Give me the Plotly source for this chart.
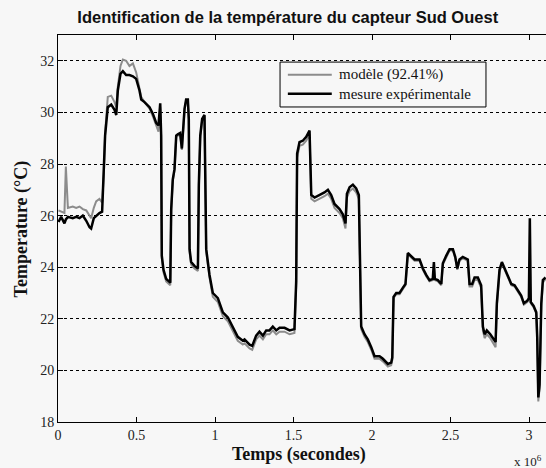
import plotly.graph_objects as go

# temps en 10^6 secondes
temps = [0.003, 0.020, 0.041, 0.050, 0.063, 0.094, 0.116, 0.137, 0.158, 0.180,
         0.201, 0.211, 0.228, 0.243, 0.264, 0.281, 0.292, 0.300, 0.317, 0.339,
         0.360, 0.371, 0.381, 0.398, 0.413, 0.434, 0.455, 0.477, 0.498, 0.519,
         0.530, 0.551, 0.583, 0.604, 0.625, 0.640, 0.651, 0.657, 0.661, 0.672,
         0.689, 0.715, 0.721, 0.731, 0.742, 0.753, 0.763, 0.778, 0.789, 0.795,
         0.806, 0.816, 0.827, 0.833, 0.838, 0.848, 0.869, 0.891, 0.897, 0.906,
         0.918, 0.933, 0.939, 0.944, 0.965, 0.986, 1.018, 1.050, 1.082, 1.113,
         1.145, 1.177, 1.188, 1.220, 1.237, 1.262, 1.283, 1.305, 1.326, 1.347,
         1.368, 1.390, 1.411, 1.443, 1.475, 1.506, 1.517, 1.523, 1.538, 1.559,
         1.581, 1.602, 1.608, 1.613, 1.634, 1.666, 1.697, 1.719, 1.740, 1.761,
         1.793, 1.814, 1.831, 1.840, 1.857, 1.878, 1.899, 1.916, 1.925, 1.931,
         1.952, 1.973, 1.995, 2.016, 2.048, 2.069, 2.101, 2.122, 2.129, 2.137,
         2.154, 2.175, 2.196, 2.213, 2.228, 2.250, 2.271, 2.303, 2.324, 2.345,
         2.366, 2.387, 2.394, 2.400, 2.419, 2.441, 2.451, 2.473, 2.494, 2.515,
         2.530, 2.543, 2.557, 2.578, 2.610, 2.621, 2.638, 2.653, 2.674, 2.695,
         2.706, 2.717, 2.731, 2.753, 2.774, 2.787, 2.795, 2.812, 2.827, 2.844,
         2.865, 2.887, 2.908, 2.929, 2.950, 2.967, 2.989, 2.999, 3.005, 3.011,
         3.029, 3.046, 3.052, 3.059, 3.067, 3.078, 3.088, 3.105]

mesure = [25.75, 25.95, 25.7, 25.85, 25.95, 25.9, 25.95, 25.9, 26.0, 25.8,
          25.55, 25.5, 25.9, 26.0, 26.1, 26.15, 27.6, 29.1, 30.2, 30.3,
          30.1, 29.9, 30.85, 31.5, 31.6, 31.45, 31.45, 31.4, 31.3, 30.85,
          30.5, 30.4, 30.2, 29.95, 29.6, 29.5, 30.35, 29.1, 24.45, 23.9,
          23.55, 23.4, 26.25, 27.4, 27.8, 29.1, 29.15, 29.2, 28.6, 29.15,
          30.15, 30.5, 30.5, 29.75, 24.7, 24.2, 24.05, 23.95, 27.2, 29.1,
          29.75, 29.9, 26.5, 24.7, 23.7, 23.0, 22.8, 22.25, 22.05, 21.7,
          21.3, 21.15, 21.2, 21.0, 20.95, 21.35, 21.5, 21.35, 21.55, 21.55,
          21.7, 21.55, 21.65, 21.65, 21.55, 21.6, 23.45, 28.4, 28.85, 28.9,
          29.05, 29.3, 27.35, 26.8, 26.7, 26.8, 26.9, 27.0, 26.8, 26.45,
          26.25, 26.05, 25.7, 26.85, 27.1, 27.2, 27.05, 26.8, 23.5, 21.7,
          21.4, 21.2, 20.9, 20.55, 20.55, 20.45, 20.25, 20.3, 20.5, 22.85,
          23.0, 23.0, 23.2, 23.35, 24.55, 24.4, 24.3, 24.3, 23.95, 23.7,
          23.5, 23.55, 24.2, 23.55, 23.5, 23.35, 24.15, 24.45, 24.7, 24.7,
          24.4, 23.95, 24.3, 24.4, 24.3, 23.35, 23.35, 23.6, 23.6, 23.3,
          21.7, 21.4, 21.55, 21.4, 21.2, 21.1, 22.6, 23.9, 24.2, 23.95,
          23.6, 23.35, 23.3, 23.1, 22.9, 22.6, 22.7, 22.8, 25.9, 22.65,
          22.5, 22.25, 21.3, 18.95, 19.45, 22.6, 23.5, 23.6]

modele = [26.2, 26.15, 26.1, 27.9, 26.3, 26.35, 26.3, 26.35, 26.25, 26.2,
          26.0, 25.9, 26.3, 26.55, 26.65, 26.5, 27.6, 29.2, 30.6, 30.65,
          30.4, 30.2, 31.0, 31.8, 32.05, 32.0, 31.8, 31.9, 31.55, 31.0,
          30.6, 30.4, 30.15, 29.85, 29.45, 29.25, 30.2, 29.0, 24.35, 23.8,
          23.45, 23.3, 26.2, 27.35, 27.75, 29.05, 29.1, 29.15, 28.55, 29.1,
          30.1, 30.45, 30.45, 29.7, 24.6, 24.1, 23.95, 23.85, 27.1, 29.0,
          29.7, 29.85, 26.4, 24.6, 23.6, 22.85, 22.65, 22.1, 21.9, 21.55,
          21.15, 21.0, 21.05, 20.85, 20.8, 21.2, 21.35, 21.2, 21.4, 21.4,
          21.55, 21.4, 21.5, 21.5, 21.4, 21.45, 23.3, 28.25, 28.7, 28.75,
          28.9, 29.15, 27.2, 26.65, 26.55, 26.65, 26.75, 26.85, 26.65, 26.3,
          26.1, 25.9, 25.5, 26.7, 26.95, 27.05, 26.9, 26.65, 23.4, 21.6,
          21.3, 21.1, 20.8, 20.45, 20.45, 20.35, 20.15, 20.2, 20.4, 22.8,
          22.95, 22.95, 23.15, 23.3, 24.5, 24.35, 24.25, 24.25, 23.9, 23.65,
          23.45, 23.5, 23.5, 23.5, 23.45, 23.3, 24.1, 24.4, 24.65, 24.65,
          24.35, 23.9, 24.25, 24.35, 24.25, 23.25, 23.25, 23.5, 23.5, 23.2,
          21.55, 21.25, 21.4, 21.25, 21.05, 20.9, 22.5, 23.8, 24.15, 23.9,
          23.55, 23.3, 23.25, 23.05, 22.85, 22.55, 22.65, 22.75, 22.75, 22.6,
          22.45, 22.2, 21.2, 18.8, 19.3, 22.5, 23.4, 23.55]

xticks = [0, 0.5, 1, 1.5, 2, 2.5, 3]
xtick_labels = ['0', '0.5', '1', '1.5', '2', '2.5', '3']
yticks = [18, 20, 22, 24, 26, 28, 30, 32]

noms = ['modèle (92.41%)', 'mesure expérimentale']
couleurs = ['#8c8c8c', 'black']
epaisseurs = [2, 2.5]

serif = 'Liberation Serif'
bg = '#f7f7f7'

fig = go.Figure()
for serie, nom, coul, ep in zip([modele, mesure], noms, couleurs, epaisseurs):
    fig.add_trace(go.Scatter(
        x=temps, y=serie, mode='lines',
        line=dict(color=coul, width=ep),
        name=nom, showlegend=False
    ))

fig.update_layout(
    width=546, height=468,
    margin=dict(l=58, r=0, t=35, b=46),
    paper_bgcolor=bg, plot_bgcolor=bg,
    title=dict(
        text='<b>Identification de la température du capteur Sud Ouest</b>',
        font=dict(family='Liberation Sans', size=16.5, color='#111'),
        x=0.527, xanchor='center', y=0.964, yanchor='middle'
    ),
)

fig.update_xaxes(
    range=[0, 3.108], tickvals=xticks, ticktext=xtick_labels,
    automargin=False,
    showgrid=False, zeroline=False,
    showline=True, linecolor='black', linewidth=1, mirror='ticks',
    ticks='inside', ticklen=5, tickcolor='black',
    tickfont=dict(family=serif, size=14, color='#222')
)
fig.update_yaxes(
    range=[18, 33], tickvals=yticks,
    automargin=False,
    showgrid=True, gridcolor='black', gridwidth=1, griddash='3px,3px',
    zeroline=False,
    showline=True, linecolor='black', linewidth=1,
    ticks='inside', ticklen=5, tickcolor='black',
    tickfont=dict(family=serif, size=14, color='#222')
)

# legend box drawn by hand (MATLAB style)
fig.add_shape(type='rect', xref='paper', yref='paper',
              x0=0.455, x1=0.877, y0=0.814, y1=0.930,
              line=dict(color='black', width=1), fillcolor=bg, layer='above')
for i, (nom, coul, ep) in enumerate(zip(noms, couleurs, epaisseurs)):
    ypos = 0.897 - i * 0.049
    fig.add_shape(type='line', xref='paper', yref='paper',
                  x0=0.471, x1=0.561, y0=ypos, y1=ypos,
                  line=dict(color=coul, width=ep), layer='above')
    fig.add_annotation(text=nom, xref='paper', yref='paper',
                       x=0.572, y=ypos, xanchor='left', yanchor='middle',
                       showarrow=False,
                       font=dict(family=serif, size=15, color='#111'))

fig.add_annotation(
    text='<b>Temps (secondes)</b>', xref='paper', yref='paper',
    x=0.494, y=-0.085, xanchor='center', yanchor='middle', showarrow=False,
    font=dict(family=serif, size=18, color='#111')
)
fig.add_annotation(
    text='<b>Temperature (°C)</b>', xref='paper', yref='paper',
    x=-0.074, y=0.5, xanchor='center', yanchor='middle', showarrow=False,
    textangle=-90, font=dict(family=serif, size=18, color='#111')
)
fig.add_annotation(
    text='x 10<sup>6</sup>', xref='paper', yref='paper',
    x=0.995, y=-0.1, xanchor='right', yanchor='middle', showarrow=False,
    font=dict(family=serif, size=13, color='#222')
)

# remove the default 8px body margin so the figure fills the window
fig.write_html("out.html", config={'displayModeBar': False},
               post_script="document.body.style.margin='0px';")
